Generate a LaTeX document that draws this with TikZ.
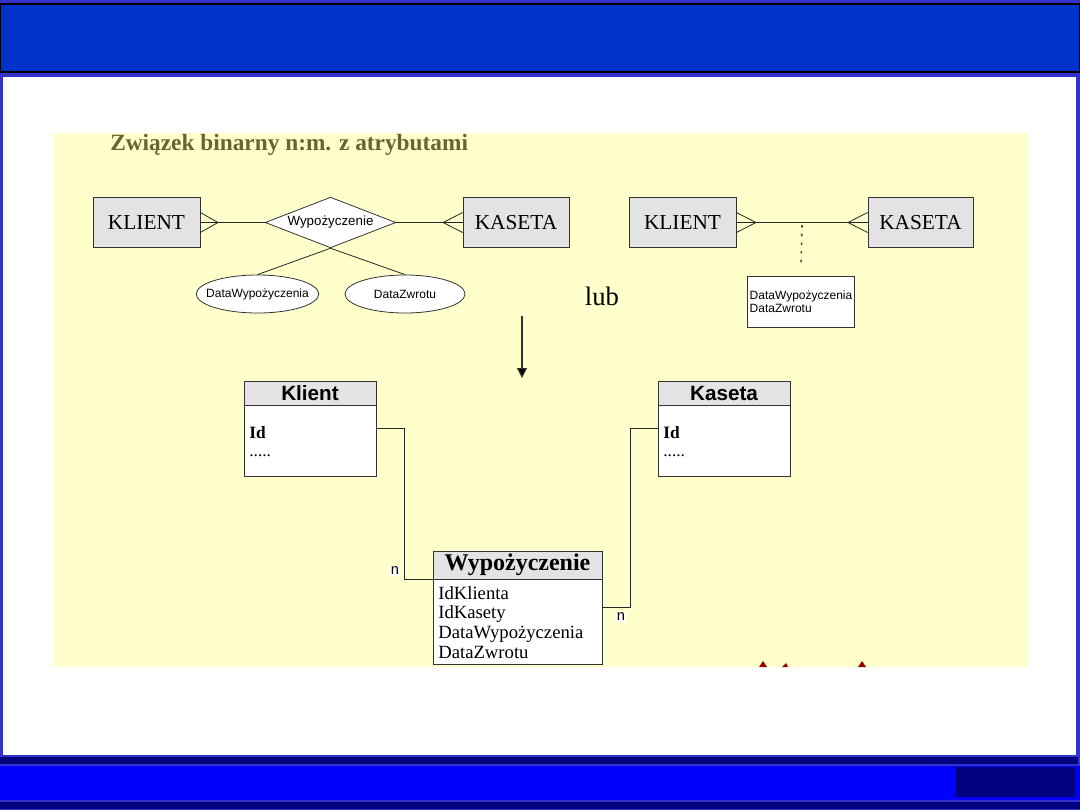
\documentclass[tikz,border=0pt]{standalone}
\usepackage{fontspec}
\setmainfont{Liberation Serif}
\setsansfont{Liberation Sans}
\usepackage{tikz}
\usetikzlibrary{arrows.meta,shapes.geometric,positioning}
\definecolor{frameblue}{HTML}{3333CC}
\definecolor{bandblue}{HTML}{0033CC}
\definecolor{navyband}{HTML}{000080}
\definecolor{footblue}{HTML}{0000FF}
\definecolor{panelyellow}{HTML}{FFFFCC}
\definecolor{titleolive}{HTML}{666633}
\definecolor{entitygray}{HTML}{E3E3E3}
\definecolor{spikered}{HTML}{990000}

\begin{document}
\begin{tikzpicture}[x=0.75pt, y=-0.75pt,
  entity/.style={rectangle, draw=black!80, fill=entitygray, line width=0.6pt, minimum width=80pt, minimum height=38pt, inner sep=0pt, font=\fontsize{16}{18}\selectfont},
  relation/.style={diamond, draw=black!80, fill=white, line width=0.6pt, minimum width=98pt, minimum height=38pt, inner sep=0pt, aspect=2.6, font=\sffamily\fontsize{10}{12}\selectfont},
  attribute/.style={ellipse, draw=black!80, fill=white, line width=0.6pt, minimum width=90pt, minimum height=28.5pt, inner xsep=-6pt, inner ysep=0pt, font=\sffamily\fontsize{9}{11}\selectfont},
  link/.style={draw=black!85, line width=0.6pt},
  thead/.style={rectangle, draw=black!80, fill=entitygray, line width=0.6pt, inner sep=0pt},
  tbody/.style={rectangle, draw=black!80, fill=white, line width=0.6pt, align=left, inner xsep=4pt, inner ysep=0pt},
  card/.style={fill=white, inner sep=1pt, font=\sffamily\fontsize{11}{13}\selectfont},
  >=Stealth]
  \useasboundingbox (0,0) rectangle (1080,810);
  % Slide frame
  \fill[frameblue] (0,0) rectangle (1080,810);
  \fill[bandblue, draw=black, line width=0.8pt] (0,4) rectangle (1080,72);
  \fill[white] (3,77) rectangle (1076,755);
  \fill[navyband] (0,757) rectangle (1078,764);
  \fill[footblue] (0,766) rectangle (1080,800);
  \fill[navyband] (955,767) rectangle (1075,797);
  \fill[navyband] (0,802) rectangle (1080,809);
  \fill[panelyellow] (54,133) rectangle (1027,667);
  \fill[spikered] (759,667) -- (763,661) -- (767,667) -- cycle;
  \fill[spikered] (782,667) -- (786,663) -- (788,667) -- cycle;
  \fill[spikered] (858,667) -- (862,661) -- (866,667) -- cycle;

  \node[anchor=west, inner sep=0pt, font=\bfseries\fontsize{17.5}{20}\selectfont, text=titleolive] (title) at (110,145) {Związek binarny n:m. z atrybutami};

  % ER diagram with relationship
  \node[entity, minimum width=80.25pt] (kl1) at (146.5,222.5) {KLIENT};
  \node[relation] (w1) at (330.5,222.5) {Wypożyczenie};
  \node[entity, minimum width=79.5pt] (ks1) at (516,222.5) {KASETA};
  \node[attribute] (dw1) at (257.5,294) {DataWypożyczenia};
  \node[attribute] (dz1) at (405,294) {DataZwrotu};
  \coordinate (kl1f) at (218,222.5);
  \coordinate (ks1f) at (443,222.5);
  \draw[link] (kl1.east) -- (w1.west);
  \draw[link] (w1.east) -- (ks1.west);
  \draw[link] ([yshift=7.5pt]kl1.east) -- (kl1f) -- ([yshift=-7.5pt]kl1.east);
  \draw[link] ([yshift=7.5pt]ks1.west) -- (ks1f) -- ([yshift=-7.5pt]ks1.west);
  \draw[link] (w1.south) -- (dw1.north);
  \draw[link] (w1.south) -- (dz1.north);

  \node[inner sep=0pt, font=\fontsize{20}{24}\selectfont] (lub) at (602,296) {lub};

  % ER diagram with attribute box
  \node[entity, minimum width=80.25pt] (kl2) at (682.5,222.5) {KLIENT};
  \node[entity, minimum width=78.75pt] (ks2) at (920.5,222.5) {KASETA};
  \node[rectangle, draw=black!80, fill=white, line width=0.6pt, minimum width=79.5pt, minimum height=38.25pt, align=left, inner sep=1.5pt, font=\sffamily\fontsize{9}{10}\selectfont] (attr) at (801,301.5) {DataWypożyczenia\\DataZwrotu};
  \coordinate (kl2f) at (756,222.5);
  \coordinate (ks2f) at (848,222.5);
  \coordinate (dotS) at (802,225);
  \draw[link] (kl2.east) -- (ks2.west);
  \draw[link] ([yshift=7.5pt]kl2.east) -- (kl2f) -- ([yshift=-7.5pt]kl2.east);
  \draw[link] ([yshift=7.5pt]ks2.west) -- (ks2f) -- ([yshift=-7.5pt]ks2.west);
  \draw[black!70, line width=1.2pt, dash pattern=on 2pt off 4.5pt] (dotS) -- ([yshift=6pt]attr.north);

  % Arrow down to tables
  \coordinate (arrS) at (522,316);
  \coordinate (arrE) at (522,378);
  \draw[black!80, line width=0.9pt, -{Triangle[width=7.5pt,length=7.5pt,fill=black]}] (arrS) -- (arrE);

  % Tables
  \node[thead, minimum width=99pt, minimum height=18pt, font=\sffamily\bfseries\fontsize{15.5}{18}\selectfont] (klH) at (310,393) {Klient};
  \node[tbody, below=0pt of klH, text width=91pt, minimum height=53.25pt, font=\fontsize{13}{13.5}\selectfont] (klB) {\textbf{Id}\\.....};
  \node[thead, minimum width=99pt, minimum height=18pt, font=\sffamily\bfseries\fontsize{15.5}{18}\selectfont] (ksH) at (724,393) {Kaseta};
  \node[tbody, below=0pt of ksH, text width=91pt, minimum height=53.25pt, font=\fontsize{13}{13.5}\selectfont] (ksB) {\textbf{Id}\\.....};
  \node[thead, minimum width=126.75pt, minimum height=21pt, font=\bfseries\fontsize{18}{21}\selectfont] (wyH) at (517.5,565) {Wypożyczenie};
  \node[tbody, below=0pt of wyH, text width=118.75pt, minimum height=63.75pt, font=\fontsize{14}{14.8}\selectfont] (wyB) {IdKlienta\\IdKasety\\DataWypożyczenia\\DataZwrotu};

  % Links with cardinalities
  \draw[link] ([yshift=9.4pt]klB.east) -- ++(28,0) |- (wyH.south west);
  \draw[link] ([yshift=10.9pt]wyB.east) -- ++(28,0) |- ([yshift=9.4pt]ksB.west);
  \node[card] (n1) at (395,571) {n};
  \node[card] (n2) at (621,617) {n};
\end{tikzpicture}
\end{document}
